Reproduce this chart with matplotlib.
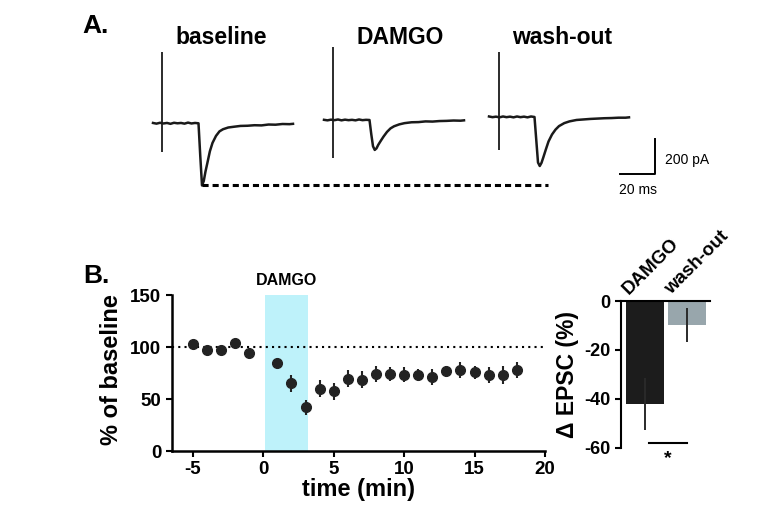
"""
EPSC traces and DAMGO time course (panels A and B)
"""

import numpy as np
import matplotlib
matplotlib.use('Agg')
import matplotlib.pyplot as plt

plt.rcParams['font.family'] = ['Liberation Sans', 'DejaVu Sans']
plt.rcParams['axes.unicode_minus'] = False

# ---- Panel A: example traces (time in ms, current in pA) ----
trace_names = ['baseline', 'DAMGO', 'wash-out']
trace_t = [0, 2, 4, 6, 8, 10, 12, 14, 16, 18, 20, 22, 24, 26, 27, 28, 29, 30, 31,
           32.5, 34, 36, 38, 40, 43, 46, 50, 54, 58, 62, 66, 70, 74, 78, 80]
baseline_pa = [2, -2, 3, -1, 2, -3, 3, 0, 2, -2, 4, -1, 2, 0, -185, -355, -330, -275, -230,
               -160, -112, -72, -46, -34, -24, -20, -15, -14, -11, -12, -7, -8, -4, -5, -3]
damgo_pa = [1, -2, 2, -1, 3, -2, 2, -1, 1, -2, 3, -1, 1, 0, -80, -150, -171, -162, -142,
            -118, -95, -68, -48, -36, -25, -18, -13, -12, -8, -9, -6, -5, -3, -4, -2]
washout_pa = [3, -1, 2, -2, 3, -1, 2, -2, 3, -1, 2, -2, 3, 0, -130, -260, -280, -262, -232,
              -185, -140, -100, -72, -52, -35, -25, -17, -14, -11, -9, -7, -6, -4, -4, -2]
artifact_t = [5.1, 5.1, 5.7]
artifact_top = [407, 417, 371]
artifact_bottom = [-164, -217, -189]

# ---- Panel B: time course ----
time_min = [-5, -4, -3, -2, -1, 1, 2, 3, 4, 5, 6, 7, 8, 9, 10, 11, 12, 13, 14, 15, 16, 17, 18]
pct_baseline = [103, 97.5, 97.5, 103.5, 94, 85, 65, 42, 60, 57.5, 69.5, 68.5, 74, 74,
                73.5, 73, 71, 76.5, 78, 75.5, 73, 73, 78]
pct_err = [2, 2, 2, 2, 3, 3, 8, 7, 8, 8, 8, 8, 8, 7, 7, 6, 8, 5, 8, 6, 8, 9, 8]
damgo_window = (0.15, 3.15)

# ---- Panel B: bar summary ----
bar_names = ['DAMGO', 'wash-out']
bar_delta = [-42, -9.8]
bar_err = [10.7, 7]
bar_colors = ['#1c1c1c', '#98a6ac']

fig = plt.figure(figsize=(7.68, 5.12), dpi=100)

# Panel A drawn on a full-figure axes scaled in ms / pA (1.75 px per ms, 0.175 px per pA)
PX_MS, PX_PA = 1.75, 0.175
axA = fig.add_axes([0, 0, 1, 1])
axA.set_xlim(0, 768 / PX_MS)
axA.set_ylim(-512 / PX_PA, 0)
axA.axis('off')

trace_x0 = [153 / PX_MS, 324 / PX_MS, 489 / PX_MS]
trace_y0 = [-123.3 / PX_PA, -120 / PX_PA, -117 / PX_PA]
label_x = [221 / PX_MS, 400 / PX_MS, 562 / PX_MS]
traces = [baseline_pa, damgo_pa, washout_pa]
t = np.array(trace_t)
for i, vals in enumerate(traces):
    x0, y0 = trace_x0[i], trace_y0[i]
    axA.plot(t + x0, np.array(vals) + y0, color='#1a1a1a', lw=1.8, solid_joinstyle='round')
    axA.vlines(artifact_t[i] + x0, artifact_bottom[i] + y0, artifact_top[i] + y0,
               color='#1a1a1a', lw=1.3)
    axA.text(label_x[i], -38 / PX_PA, trace_names[i], ha='center', va='center',
             fontsize=16.5, fontweight='bold')

# dashed line at baseline peak amplitude
ipk = int(np.argmin(baseline_pa))
axA.plot([trace_t[ipk] + trace_x0[0], 548 / PX_MS],
         [baseline_pa[ipk] + trace_y0[0]] * 2, color='black', lw=2.2, dashes=(2, 1.3))

# scale bar 20 ms / 200 pA
sx, sy = 655 / PX_MS, -174.3 / PX_PA
axA.plot([sx - 20, sx, sx], [sy, sy, sy + 200], color='black', lw=1.4)
axA.text(sx + 5.7, sy + 80, '200 pA', ha='left', va='center', fontsize=10)
axA.text(sx - 9.7, sy - 90, '20 ms', ha='center', va='center', fontsize=10)

fig.text(96 / 768, 1 - 26 / 512, 'A.', ha='center', va='center', fontsize=19, fontweight='bold')
fig.text(96 / 768, 1 - 276 / 512, 'B.', ha='center', va='center', fontsize=19, fontweight='bold')

# ---- time course axes ----
axB = fig.add_axes([171.7 / 768, 1 - 451 / 512, 373.3 / 768, 156 / 512])
axB.axvspan(*damgo_window, color='#bef2fa', lw=0, zorder=0)
axB.axhline(100, color='black', lw=1.5, ls=(0, (1, 2)), zorder=1)
axB.errorbar(time_min, pct_baseline, yerr=pct_err, fmt='o', color='#232323', ms=7,
             elinewidth=1.5, capsize=0, zorder=3)
axB.text(np.mean(damgo_window), 150 + 7, 'DAMGO', ha='center', va='bottom',
         fontsize=11.5, fontweight='bold')
axB.set_xlim(-6.5, 20)
axB.set_ylim(0, 150)
axB.set_xticks([-5, 0, 5, 10, 15, 20])
axB.set_yticks([0, 50, 100, 150])
for s in ['top', 'right']:
    axB.spines[s].set_visible(False)
for s in ['left', 'bottom']:
    axB.spines[s].set_linewidth(1.8)
axB.tick_params(width=1.5, length=4, labelsize=13.5)
for lab in axB.get_xticklabels() + axB.get_yticklabels():
    lab.set_fontweight('bold')
axB.set_xlabel('time (min)', fontsize=17, fontweight='bold')
axB.xaxis.set_label_coords(0.5, -0.17)
axB.set_ylabel('% of baseline', fontsize=17, fontweight='bold')
axB.yaxis.set_label_coords(-0.13, 0.52)

# ---- bar summary axes ----
axC = fig.add_axes([621 / 768, 1 - 447.7 / 512, 89 / 768, 146.7 / 512])
pos = np.arange(len(bar_names))
axC.bar(pos, bar_delta, width=0.9, color=bar_colors, zorder=1)
axC.errorbar(pos, bar_delta, yerr=bar_err, fmt='none', ecolor='#2a2a2a', elinewidth=1.4,
             capsize=0, zorder=2)
axC.set_xlim(-0.56, 1.55)
axC.set_ylim(-60, 0)
axC.set_yticks([0, -20, -40, -60])
axC.set_xticks([])
for s in ['bottom', 'right']:
    axC.spines[s].set_visible(False)
axC.spines['left'].set_linewidth(1.5)
axC.spines['top'].set_linewidth(1.5)
axC.tick_params(axis='y', width=1.5, length=4, labelsize=13)
for lab in axC.get_yticklabels():
    lab.set_fontweight('bold')
for p, name in zip(pos, bar_names):
    axC.text(p - 0.3, 1.2, name, rotation=45, ha='left', va='bottom', rotation_mode='anchor',
             fontsize=13.5, fontweight='bold', clip_on=False)
axC.set_ylabel('Δ EPSC (%)', fontsize=16.5, fontweight='bold')
axC.yaxis.set_label_coords(-0.47, 0.5)
# significance marker
axC.plot([0.1, 1.0], [-58, -58], color='black', lw=1.5, clip_on=False)
axC.text(0.55, -61, '*', ha='center', va='top', fontsize=14, fontweight='bold')

fig.savefig('out.png', dpi=100)
